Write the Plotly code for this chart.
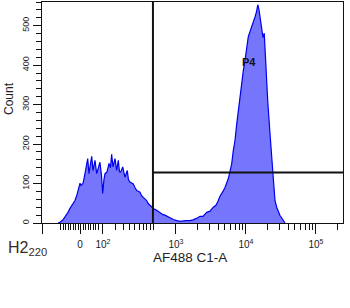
import plotly.graph_objects as go

# Histogram: bin positions on the display (logicle) scale, in decade units, and counts
bin_pos = [1.314, 1.343, 1.386, 1.414, 1.457, 1.486, 1.529, 1.557, 1.586, 1.600,
           1.629, 1.643, 1.671, 1.686, 1.714, 1.739, 1.757, 1.779, 1.796, 1.814,
           1.829, 1.843, 1.867, 1.886, 1.914, 1.936, 1.953, 1.971, 1.986, 2.014,
           2.043, 2.064, 2.081, 2.100, 2.129, 2.153, 2.176, 2.193, 2.210, 2.239,
           2.257, 2.271, 2.304, 2.321, 2.343, 2.390, 2.414, 2.439, 2.486, 2.507,
           2.533, 2.581, 2.600, 2.629, 2.676, 2.724, 2.771, 2.814, 2.843, 2.871,
           2.914, 2.961, 3.014, 3.057, 3.129, 3.200, 3.243, 3.286, 3.343, 3.386,
           3.439, 3.486, 3.533, 3.571, 3.600, 3.629, 3.671, 3.700, 3.747, 3.771,
           3.796, 3.819, 3.843, 3.867, 3.890, 3.914, 3.939, 3.961, 3.986, 4.010,
           4.033, 4.057, 4.081, 4.104, 4.129, 4.150, 4.169, 4.186, 4.200, 4.224,
           4.243, 4.261, 4.281, 4.310, 4.343, 4.376, 4.393, 4.404, 4.414, 4.439,
           4.457, 4.486, 4.514, 4.533, 4.557]
counts = [0, 2, 8, 15, 27, 37, 48, 57, 72, 82,
          101, 95, 100, 112, 142, 163, 125, 150, 169, 133,
          150, 159, 125, 140, 154, 120, 75, 110, 125, 129,
          151, 140, 174, 142, 163, 133, 159, 130, 129, 142,
          120, 116, 133, 110, 104, 99, 90, 82, 78, 70,
          65, 57, 50, 44, 37, 32, 25, 21, 20, 17,
          12, 9, 6, 4, 6, 6, 8, 11, 17, 17,
          27, 30, 40, 45, 55, 68, 80, 90, 112, 130,
          150, 184, 209, 250, 286, 320, 353, 385, 412, 440,
          472, 485, 497, 505, 522, 535, 553, 540, 522, 489,
          470, 481, 395, 311, 227, 142, 110, 91, 57, 40,
          30, 19, 12, 6, 0]

# Axis definitions (display scale)
x_range = [1.086, 5.386]
y_range = [0, 560]
x_major_vals = [1.086, 1.629, 1.957, 3.0, 4.0, 5.0]
x_major_text = ["", "0", "10<sup>2</sup>", "10<sup>3</sup>", "10<sup>4</sup>", "10<sup>5</sup>"]
x_minor_vals = [1.353, 1.389, 1.424, 1.460, 1.496, 1.531, 1.567, 1.603, 1.639,
                1.674, 1.710, 1.746, 1.781, 1.817, 1.853, 1.889,
                2.129, 2.247, 2.343, 2.414, 2.476, 2.533, 2.581, 2.629, 2.676,
                3.301, 3.477, 3.602, 3.699, 3.778, 3.845, 3.903, 3.954,
                4.301, 4.477, 4.602, 4.699, 4.778, 4.845, 4.903, 4.954,
                5.301]

# Gate P4
gate_x = 2.671
gate_y = 128
gate_label = "P4"
gate_label_pos = (4.043, 407)

fig = go.Figure()
fig.add_trace(go.Scatter(
    x=bin_pos, y=counts, mode="lines", fill="tozeroy",
    line=dict(color="rgb(0,0,235)", width=1.2),
    fillcolor="rgb(118,118,252)", hoverinfo="skip", showlegend=False,
))

fig.add_shape(type="line", x0=gate_x, x1=gate_x, y0=0, y1=1, yref="y domain",
              line=dict(color="#111", width=2))
fig.add_shape(type="line", x0=gate_x, x1=x_range[1], y0=gate_y, y1=gate_y,
              line=dict(color="#111", width=2))

fig.add_annotation(x=gate_label_pos[0], y=gate_label_pos[1], text="<b>" + gate_label + "</b>",
                   showarrow=False, xanchor="center", yanchor="middle",
                   font=dict(family="Liberation Sans", size=11, color="#111"))

W, H = 350, 308
L, R, T, B = 42, 7, 2, 85
pw, ph = W - L - R, H - T - B

def px(x):
    return (x - L) / pw

def py(y):
    return (H - B - y) / ph

fig.add_annotation(x=px(9), y=py(99), xref="paper", yref="paper", text="Count",
                   textangle=-90, showarrow=False, xanchor="center", yanchor="middle",
                   font=dict(family="Liberation Sans", size=12, color="#222"))
fig.add_annotation(x=px(190), y=py(257), xref="paper", yref="paper", text="AF488 C1-A",
                   showarrow=False, xanchor="center", yanchor="middle",
                   font=dict(family="Liberation Sans", size=13.5, color="#222"))
fig.add_annotation(x=px(6), y=py(248), xref="paper", yref="paper", xanchor="left",
                   yanchor="middle", text="H2<sub>220</sub>", showarrow=False,
                   font=dict(family="Liberation Sans", size=16, color="#3a2a22"))

fig.update_layout(
    width=W, height=H, margin=dict(l=L, r=R, t=T, b=B),
    paper_bgcolor="white", plot_bgcolor="white",
    xaxis=dict(range=x_range, tickmode="array", tickvals=x_major_vals, ticktext=x_major_text,
               ticks="outside", ticklen=10, tickwidth=1, tickcolor="#111",
               ticklabelstandoff=2,
               showline=True, linecolor="#111", linewidth=1, mirror=True,
               showgrid=False, zeroline=False,
               tickfont=dict(family="Liberation Sans", size=10, color="#222"),
               minor=dict(tickmode="array", tickvals=x_minor_vals, ticks="outside",
                          ticklen=6, tickwidth=1, tickcolor="#111", showgrid=False)),
    yaxis=dict(range=y_range, tickmode="linear", tick0=0, dtick=100,
               ticks="outside", ticklen=8, tickwidth=1, tickcolor="#111",
               showline=True, linecolor="#111", linewidth=1, mirror=True,
               showgrid=False, zeroline=False, tickangle=-90,
               tickfont=dict(family="Liberation Sans", size=9, color="#222"),
               minor=dict(dtick=20, ticks="outside", ticklen=5, tickwidth=1,
                          tickcolor="#111", showgrid=False)),
)

fig.write_html("out.html")
